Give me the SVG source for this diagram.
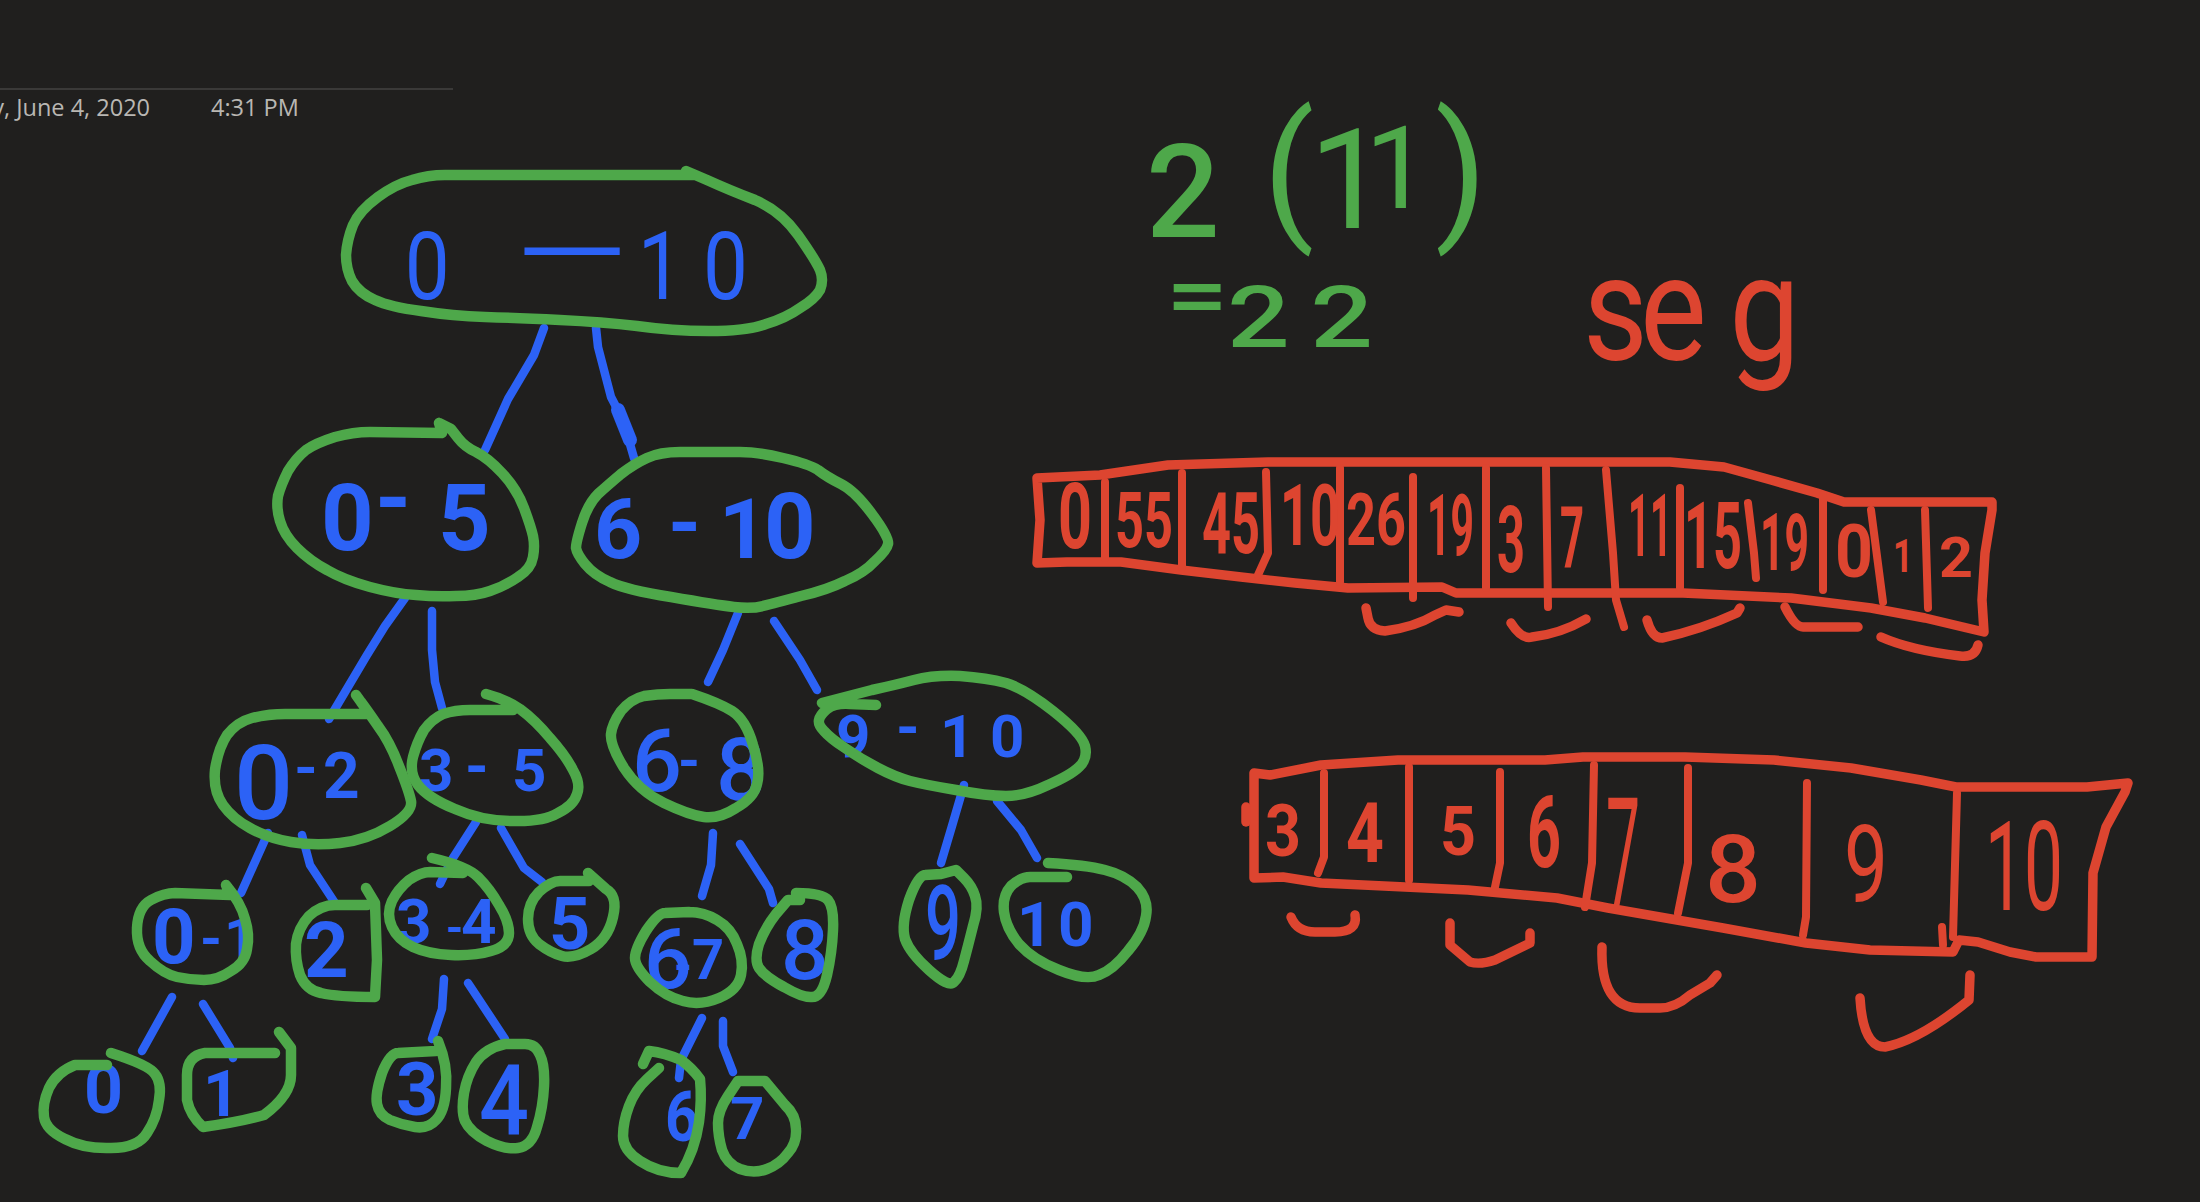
<svg xmlns="http://www.w3.org/2000/svg" width="2200" height="1202" viewBox="0 0 2200 1202">
<style>
text{font-family:Roboto,"Liberation Sans",Arial,sans-serif}
.n,.c,.a{fill:none;stroke-linecap:round;stroke-linejoin:round}
.n{stroke:#4ea84a;stroke-width:10.5}
.c{stroke:#2c62f6;stroke-width:8.5}
.a{stroke:#dd4530;stroke-width:9.5}
.a2{stroke-width:8}
.b{fill:#2c62f6;font-weight:700}
.bm{fill:#2c62f6;font-weight:500}
.bt{fill:#2c62f6}
.r{fill:#dd4530;font-weight:700}
.rm{fill:#dd4530;font-weight:500}
.rt{fill:#dd4530}
.g{fill:#4ea84a;font-weight:500}
.h{fill:#b9b7b3;font-family:"Open Sans","Liberation Sans",sans-serif;font-size:23.5px}
</style>
<rect width="2200" height="1202" fill="#201f1e"/>
<g id="header">
<line x1="0" y1="89" x2="453" y2="89" stroke="#3a3938" stroke-width="2"/>
<text class="h" x="150" y="116" text-anchor="end">y, June 4, 2020</text>
<text class="h" x="211" y="116">4:31 PM</text>
</g>
<g id="connectors">
<polyline class="c" points="544,328 534,355 508,399 485,450"/>
<polyline class="c" points="596,328 598,347 611,397 623,420 634,458"/>
<polyline class="c" style="stroke-width:14" points="618,410 624,425 630,440"/>
<polyline class="c" points="405,598 385,626 367,655 329,719"/>
<polyline class="c" points="432,611 432,650 435,682 442,708"/>
<polyline class="c" points="738,613 723,650 708,682"/>
<polyline class="c" points="774,621 800,660 817,690"/>
<polyline class="c" points="268,833 241,893"/>
<polyline class="c" points="302,835 310,865 335,903"/>
<polyline class="c" points="476,822 451,861 440,884"/>
<polyline class="c" points="501,828 524,868 542,882"/>
<polyline class="c" points="713,833 711,865 702,896"/>
<polyline class="c" points="740,844 769,889 773,903"/>
<polyline class="c" points="964,785 952,826 941,863"/>
<polyline class="c" points="997,801 1021,830 1037,858"/>
<polyline class="c" points="172,997 142,1051"/>
<polyline class="c" points="203,1004 230,1048 233,1058"/>
<polyline class="c" points="444,979 442,1009 432,1039"/>
<polyline class="c" points="468,983 505,1039"/>
<polyline class="c" points="702,1018 681,1060 679,1078"/>
<polyline class="c" points="723,1021 723,1046 733,1072"/>
</g>
<g id="node-0-10">
<text class="bt" font-size="94" transform="translate(409,299) scale(.85,1)"><tspan x="-5" y="0">0 </tspan><tspan x="136" y="-19" font-size="112" font-family="Liberation Sans">— </tspan><tspan x="269 346" y="0">10</tspan></text>
<path class="n" d="M692,175 L445,175 Q428,175 412,180 Q396,184 378,197 Q359,211 353,225 Q347,240 346,255 Q346,269 352,281 Q359,293 375,300 Q390,307 421,311 Q453,316 485,317 Q517,318 560,320 Q603,322 637,326 Q672,331 709,331 Q746,331 766,324 Q786,318 800,308 Q815,299 820,290 Q824,280 820,270 Q815,259 798,235 Q781,211 755,200 Q729,190 707,180 L686,171"/>
</g>
<g id="node-0-5">
<text class="b" font-size="92"><tspan x="321" y="550">0</tspan><tspan x="375" y="530">-</tspan><tspan x="438" y="550">5</tspan></text>
<path class="n" d="M439,423 L442,433 L370,432 Q353,432 335,437 Q316,443 306,450 Q296,458 288,471 Q281,485 278,496 Q276,508 280,521 Q284,535 297,548 Q310,561 327,570 Q344,580 370,587 Q396,594 416,595 Q436,597 456,596 Q476,596 490,591 Q505,586 518,577 Q531,569 533,557 Q535,546 533,536 Q531,527 524,508 Q517,489 502,473 Q488,458 476,452 Q465,447 458,438 L451,429 L439,423"/>
</g>
<g id="node-6-10">
<text class="b" font-size="84"><tspan x="594" y="558">6</tspan><tspan x="668" y="552">-</tspan><tspan x="719" y="558">1</tspan><tspan x="764" y="558" font-size="90">0</tspan></text>
<path class="n" d="M621,474 Q634,464 647,458 Q660,452 680,452 L740,452 Q758,452 783,458 Q809,464 818,470 Q827,477 841,484 Q855,491 872,514 Q890,538 888,544 Q887,550 875,561 Q864,573 845,581 Q827,590 801,596 Q775,603 763,606 Q752,609 734,607 Q717,605 671,597 Q626,590 610,582 Q594,575 585,564 Q577,554 576,548 Q576,542 582,523 Q588,504 598,494 Q608,485 621,474 Z"/>
</g>
<g id="node-0-2">
<text class="bm" font-size="104"><tspan x="234" y="819">0</tspan><tspan x="295" y="790" font-size="64">-</tspan><tspan x="323" y="798" font-size="64" font-weight="700">2</tspan></text>
<path class="n" d="M367,714 L285,714 Q268,714 252,718 Q237,722 227,735 Q218,749 215,770 Q213,791 223,805 Q233,819 250,828 Q268,838 291,842 Q314,846 340,843 Q367,840 390,826 Q413,812 411,801 Q409,791 399,766 Q390,742 378,726 Q367,710 361,702 L356,695"/>
</g>
<g id="node-3-5">
<text class="b" font-size="60"><tspan x="419" y="791">3</tspan><tspan x="465" y="787">-</tspan><tspan x="512" y="791">5</tspan></text>
<path class="n" d="M513,710 L470,710 Q455,710 443,714 Q432,719 424,730 Q417,742 413,757 Q409,773 418,785 Q428,798 455,809 Q482,821 512,821 Q543,822 558,813 Q574,805 577,794 Q581,784 573,770 Q566,756 550,738 Q535,720 520,709 Q505,699 486,694"/>
</g>
<g id="node-6-8">
<text class="bm" font-size="88"><tspan x="632" y="791">6</tspan><tspan x="678" y="780" font-size="56" font-weight="700">-</tspan><tspan x="716" y="800">8</tspan></text>
<path class="n" d="M692,694 L670,694 Q658,694 644,696 Q631,699 621,711 Q612,724 611,734 Q610,745 624,768 Q639,791 664,803 Q689,815 704,817 Q719,819 736,808 Q754,798 757,784 Q761,770 753,745 Q746,720 732,711 Q719,703 692,694"/>
</g>
<g id="node-9-10">
<text class="b" font-size="60"><tspan x="836" y="757">9</tspan><tspan x="896" y="748">-</tspan><tspan x="940" y="757">1</tspan><tspan x="990" y="757">0</tspan></text>
<path class="n" d="M876,705 L850,704 Q835,703 827,709 Q820,715 819,720 Q818,725 824,731 Q830,738 845,748 Q861,759 878,768 Q895,777 910,781 Q926,785 956,790 Q987,796 1006,796 Q1025,796 1048,785 Q1071,775 1079,767 Q1088,759 1085,746 Q1082,734 1053,711 Q1025,689 1006,683 Q987,678 960,676 Q933,675 914,680 Q895,685 872,690 Q849,696 822,703"/>
</g>
<g id="node-0-1">
<text class="b" font-size="76"><tspan x="152" y="963">0</tspan><tspan x="200" y="958" font-size="56">-</tspan><tspan x="224" y="958" font-size="58">1</tspan></text>
<path class="n" d="M226,885 L230,895 L175,893 Q164,893 151,900 Q138,907 137,928 Q136,949 150,961 Q164,974 177,977 Q191,980 204,980 Q218,980 231,971 Q245,963 247,949 Q250,935 245,919 Q241,903 226,885"/>
</g>
<g id="node-2">
<text class="b" font-size="78" x="304" y="977">2</text>
<path class="n" d="M367,905 L335,905 Q321,905 309,916 Q298,928 296,944 Q295,960 300,975 Q306,990 321,993 Q337,997 375,997 L377,960 L375,903 L366,888"/>
</g>
<g id="node-3-4">
<text class="b" font-size="62"><tspan x="396" y="943">3</tspan><tspan x="446" y="943" font-size="44">-</tspan><tspan x="461" y="943">4</tspan></text>
<path class="n" d="M463,873 L430,872 Q421,872 409,880 Q398,889 392,901 Q386,914 392,927 Q398,940 413,947 Q428,954 451,955 Q474,956 491,951 Q509,946 509,933 Q509,921 499,905 Q490,889 478,877 Q467,866 432,858"/>
</g>
<g id="node-5">
<text class="b" font-size="72" x="549" y="949">5</text>
<path class="n" d="M589,881 L560,881 Q551,881 539,892 Q528,903 528,919 Q528,935 539,944 Q551,953 562,956 Q574,959 591,949 Q608,939 613,917 Q618,896 606,889 L588,873"/>
</g>
<g id="node-9">
<text class="bm" font-size="104" x="925" y="960" textLength="36" lengthAdjust="spacingAndGlyphs">9</text>
<path class="n" d="M941,874 L925,875 Q918,875 909,900 Q901,925 905,939 Q910,953 929,970 Q949,988 954,982 Q960,977 964,961 Q968,946 973,926 Q979,907 975,896 Q972,886 964,878 L956,870 L941,874"/>
</g>
<g id="node-10">
<text class="b" font-size="62"><tspan x="1017" y="946">1</tspan><tspan x="1058" y="946">0</tspan></text>
<path class="n" d="M1067,877 L1030,877 Q1021,877 1011,886 Q1002,896 1004,912 Q1006,928 1019,944 Q1033,960 1059,970 Q1086,981 1099,975 Q1113,970 1128,951 Q1144,932 1146,916 Q1149,900 1137,887 Q1125,875 1105,870 Q1086,865 1048,863"/>
</g>
<g id="node-6-7">
<text class="bm" font-size="84"><tspan x="644" y="988">6</tspan><tspan x="674" y="982" font-size="46" font-weight="700">-</tspan><tspan x="692" y="979" font-size="56" font-weight="700">7</tspan></text>
<path class="n" d="M689,912 L665,913 Q658,913 646,931 Q635,949 635,958 Q635,967 650,982 Q666,997 683,1001 Q700,1006 719,998 Q738,990 741,975 Q744,960 737,944 Q731,928 717,920 Q704,912 689,912"/>
</g>
<g id="node-8">
<text class="bm" font-size="84" x="781" y="979">8</text>
<path class="n" d="M800,900 L788,900 L776,914 Q765,928 759,944 Q754,960 759,968 Q765,977 784,987 Q803,998 812,997 Q822,997 827,975 Q832,953 833,930 Q834,907 828,900 Q822,893 796,893"/>
</g>
<g id="node-0">
<text class="b" font-size="68" x="84" y="1113">0</text>
<path class="n" d="M107,1065 L75,1065 Q57,1072 49,1088 Q42,1104 44,1117 Q46,1130 65,1139 Q84,1149 111,1148 Q138,1148 147,1133 Q157,1118 159,1100 Q162,1083 155,1074 Q149,1065 111,1053"/>
</g>
<g id="node-1">
<text class="b" font-size="64" x="203" y="1116">1</text>
<path class="n" d="M275,1053 L205,1053 Q187,1056 187,1075 L187,1100 Q190,1115 203,1127 Q240,1122 264,1115 Q291,1095 291,1075 L291,1048 L279,1032"/>
</g>
<g id="node-3">
<text class="b" font-size="74" x="396" y="1115">3</text>
<path class="n" d="M436,1051 L398,1053 Q390,1053 382,1073 Q375,1094 377,1104 Q379,1115 390,1120 Q402,1125 415,1127 Q428,1129 436,1120 Q445,1111 446,1088 Q448,1065 438,1041"/>
</g>
<g id="node-4">
<text class="bm" font-size="98" x="479" y="1135" textLength="50" lengthAdjust="spacingAndGlyphs">4</text>
<path class="n" d="M505,1044 L525,1044 Q536,1044 540,1055 Q545,1065 544,1086 Q543,1108 537,1127 Q532,1146 518,1148 Q505,1150 487,1141 Q470,1132 465,1121 Q461,1111 464,1093 Q467,1076 476,1062 Q486,1048 505,1044"/>
</g>
<g id="node-6">
<text class="b" font-size="70" x="665" y="1141" textLength="34" lengthAdjust="spacingAndGlyphs">6</text>
<path class="n" d="M659,1068 L647,1079 Q635,1090 629,1106 Q623,1122 623,1136 Q623,1150 640,1161 Q658,1173 681,1173 Q695,1150 699,1122 Q702,1100 700,1079 Q692,1068 681,1060 Q665,1053 649,1051 L643,1064"/>
</g>
<g id="node-7">
<text class="b" font-size="60" x="730" y="1139">7</text>
<path class="n" d="M754,1081 L765,1081 L785,1105 Q796,1115 796,1129 Q797,1143 788,1153 Q780,1164 767,1169 Q754,1174 740,1169 Q727,1164 722,1150 Q718,1136 718,1123 Q718,1111 728,1096 L738,1081 Z"/>
</g>
<g id="sum">
<text class="g" font-size="130"><tspan x="1146" y="237">2</tspan><tspan x="1263" y="222" font-size="150" font-weight="400">(</tspan><tspan x="1309" y="228" font-size="140" font-weight="400">1</tspan><tspan x="1365" y="208" font-size="115" font-weight="400">1</tspan><tspan x="1435" y="222" font-size="150" font-weight="400">)</tspan></text>
<text class="g" font-size="85" transform="translate(1166,347) scale(1.3,1)" x="0 47 111" y="-22 0 0">=22</text>
</g>
<g id="seg-label">
<text class="rt" font-size="148" transform="translate(1583,360) scale(.85,1)" x="0 67 172">seg</text>
</g>
<g id="array-15">
<polyline class="a" points="1037,478 1100,475 1168,465 1268,462 1670,462 1724,467 1771,480 1817,493 1844,502 1992,502 1992,510 1985,553 1982,600 1984,632 1925,618 1871,608 1791,598 1683,593 1456,593 1442,587 1348,588 1295,583 1241,577 1181,570 1121,562 1067,562 1037,563 1040,520 1037,478"/>
<g class="a a2">
<line x1="1105" y1="482" x2="1105" y2="558"/>
<line x1="1182" y1="473" x2="1182" y2="567"/>
<polyline points="1266,472 1268,553 1258,575"/>
<line x1="1340" y1="468" x2="1340" y2="582"/>
<line x1="1413" y1="477" x2="1413" y2="598"/>
<line x1="1486" y1="468" x2="1486" y2="588"/>
<line x1="1546" y1="468" x2="1548" y2="607"/>
<polyline points="1606,470 1613,553 1616,600 1624,627"/>
<line x1="1680" y1="488" x2="1680" y2="588"/>
<polyline points="1748,503 1754,553 1756,578"/>
<line x1="1823" y1="495" x2="1823" y2="590"/>
<line x1="1871" y1="510" x2="1883" y2="602"/>
<line x1="1925" y1="510" x2="1928" y2="608"/>
</g>
<text class="r" font-size="90" x="1058" y="548" textLength="34" lengthAdjust="spacingAndGlyphs">0</text>
<text class="r" font-size="78" x="1115" y="547" textLength="58" lengthAdjust="spacingAndGlyphs">55</text>
<text class="r" font-size="86" x="1202" y="553" textLength="58" lengthAdjust="spacingAndGlyphs">45</text>
<text class="r" font-size="85" x="1280" y="545" textLength="60" lengthAdjust="spacingAndGlyphs">10</text>
<text class="r" font-size="72" x="1346" y="545" textLength="60" lengthAdjust="spacingAndGlyphs">26</text>
<text class="r" font-size="85" x="1427" y="555" textLength="47" lengthAdjust="spacingAndGlyphs">19</text>
<text class="r" font-size="92" x="1497" y="572" textLength="28" lengthAdjust="spacingAndGlyphs">3</text>
<text class="r" font-size="85" x="1560" y="567" textLength="24" lengthAdjust="spacingAndGlyphs">7</text>
<text class="r" font-size="88" x="1628" y="556" textLength="44" lengthAdjust="spacingAndGlyphs">11</text>
<text class="r" font-size="92" x="1684" y="568" textLength="58" lengthAdjust="spacingAndGlyphs">15</text>
<text class="r" font-size="80" x="1760" y="570" textLength="49" lengthAdjust="spacingAndGlyphs">19</text>
<text class="r" font-size="74" x="1835" y="577" textLength="38" lengthAdjust="spacingAndGlyphs">0</text>
<text class="r" font-size="46" x="1893" y="572" textLength="20" lengthAdjust="spacingAndGlyphs">1</text>
<text class="r" font-size="56" x="1939" y="577" textLength="34" lengthAdjust="spacingAndGlyphs">2</text>
<g class="a">
<path d="M1366,608 L1368,618 Q1370,630 1385,631 Q1415,627 1435,615 L1446,610 L1459,612"/>
<path d="M1511,623 Q1522,640 1532,637 Q1560,634 1586,619"/>
<path d="M1647,620 Q1652,638 1662,638 Q1700,630 1737,613 L1740,608"/>
<path d="M1785,607 Q1795,627 1803,627 L1858,627"/>
<path d="M1881,637 Q1910,650 1960,656 Q1975,658 1978,645"/>
</g>
</g>
<g id="array-8">
<polyline class="a" points="1254,773 1270,775 1321,765 1398,760 1545,760 1583,757 1685,757 1774,760 1851,768 1921,780 1956,787 2087,787 2128,783 2125,792 2106,827 2093,873 2092,957 2036,957 2010,952 1978,942 1959,940 1953,952 1870,950 1806,943 1723,928 1608,908 1557,898 1468,890 1321,883 1283,877 1254,878 1254,817 1254,773"/>
<polyline class="a" points="1246,807 1246,822"/>
<g class="a a2">
<polyline points="1324,773 1324,857 1318,873"/>
<line x1="1409" y1="767" x2="1409" y2="880"/>
<polyline points="1500,772 1500,863 1495,887"/>
<polyline points="1594,765 1592,863 1585,907"/>
<polyline points="1688,768 1688,863 1678,913"/>
<polyline points="1807,783 1806,917 1803,935"/>
<line x1="1957" y1="793" x2="1953" y2="937"/>
<line x1="1942" y1="927" x2="1943" y2="945"/>
</g>
<text class="r" font-size="72" x="1265" y="856" textLength="36" lengthAdjust="spacingAndGlyphs">3</text>
<text class="r" font-size="84" x="1346" y="862" textLength="38" lengthAdjust="spacingAndGlyphs">4</text>
<text class="r" font-size="68" x="1440" y="855" textLength="36" lengthAdjust="spacingAndGlyphs">5</text>
<text class="r" font-size="100" x="1527" y="867" textLength="34" lengthAdjust="spacingAndGlyphs">6</text>
<text class="rt" font-size="150" x="1606" y="905" textLength="34" lengthAdjust="spacingAndGlyphs">7</text>
<text class="rm" font-size="95" x="1705" y="902" textLength="56" lengthAdjust="spacingAndGlyphs">8</text>
<text class="rt" font-size="108" x="1844" y="902" textLength="44" lengthAdjust="spacingAndGlyphs">9</text>
<text class="rt" font-size="125" x="1985" y="910" textLength="78" lengthAdjust="spacingAndGlyphs">10</text>
<g class="a">
<path d="M1291,917 Q1297,932 1315,932 L1335,932 Q1358,932 1355,915"/>
<path d="M1450,923 L1450,945 L1470,962 Q1480,965 1495,960 L1530,943 L1530,933"/>
<path d="M1602,947 Q1600,1008 1640,1008 L1660,1008 Q1675,1008 1690,995 L1710,983 L1717,975"/>
<path d="M1860,998 Q1863,1047 1885,1047 Q1920,1040 1969,1000 L1970,975"/>
</g>
</g>
</svg>
